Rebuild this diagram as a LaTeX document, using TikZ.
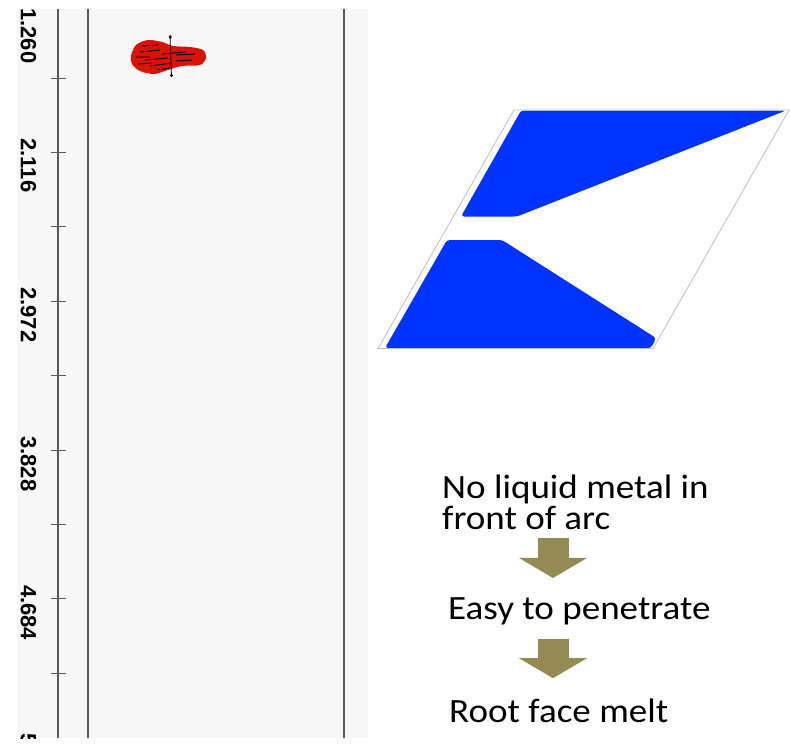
\documentclass[tikz,border=0pt]{standalone}
\usepackage{fontspec}
\setmainfont{Carlito}
\newfontfamily\axisfont{Liberation Sans}
\usetikzlibrary{arrows.meta}

\definecolor{panelgray}{RGB}{247,247,247}
\definecolor{gridgray}{RGB}{90,90,90}
\definecolor{poolred}{RGB}{215,20,5}
\definecolor{grooveblue}{RGB}{0,51,255}
\definecolor{olive}{RGB}{148,138,84}

\begin{document}
\begin{tikzpicture}[x=1pt, y=-1pt]
	\tikzstyle{axisline}=[gridgray, line width=1.8pt]
	\tikzstyle{ticklabel}=[font=\axisfont\bfseries\fontsize{22}{22}\selectfont, rotate=-90, anchor=west, inner sep=0pt]
	\tikzstyle{steptext}=[font=\fontsize{34}{31}\selectfont, align=left, inner sep=0pt, xscale=1.09]
	\tikzstyle{flow}=[olive, line width=31pt, -{Triangle[length=20pt, width=67pt]}]
	\useasboundingbox (0,0) rectangle (790,752);

	% left panel with the axis
	\fill[panelgray] (17,9) rectangle (368,738);
	\begin{scope}
		\clip (17,9) rectangle (368,738);
		\draw[axisline] (58,9) -- (58,738);
		\draw[axisline] (88,9) -- (88,738);
		\draw[axisline] (344,9) -- (344,738);
		\foreach \k in {0,...,9}
			\draw[gridgray, line width=0.8pt] (51,3.6+74.4*\k) -- (66,3.6+74.4*\k);
		\node[ticklabel] (v1) at (28.5,8) {1.260};
		\foreach \lab/\y [count=\i from 2] in {2.116/152.4, 2.972/301.2, 3.828/450, 4.684/598.8, 5.540/747.6}
			\node[ticklabel] (v\i) at (28.5,\y-14) {\lab};
	\end{scope}

	% melt pool
	\fill[poolred] plot[smooth cycle] coordinates {(131,56) (136,45) (148,40) (162,42) (173,46)
		(190,47) (203,50) (206,58) (200,65) (182,66) (168,70) (154,74) (140,71) (132,64)};
	\draw[black, line width=0.9pt] (140,52) -- (160,50) (145,60) -- (168,58) (150,66) -- (172,63)
		(176,55) -- (195,54) (136,57) -- (150,57) (158,70) -- (170,68) (142,46) -- (158,45)
		(162,54) -- (186,52) (138,64) -- (152,63) (176,61) -- (192,60);
	\draw[black, line width=0.8pt] (170,35) -- (171.5,77);
	\fill[black] (170.2,37) circle (1.6pt) (171.4,75.5) circle (1.6pt);

	% groove cross section
	\fill[grooveblue, rounded corners=3pt] (521,110.5) -- (786,110.5) -- (517,216.5) -- (461,216.5) -- cycle;
	\fill[grooveblue, rounded corners=3pt] (447,240) -- (502,240) -- (656,338) -- (651,348) -- (385,348) -- cycle;
	\draw[gray!50, line width=0.8pt] (514,110) -- (789,110) -- (653,348.5) -- (378,348.5) -- cycle;

	% cause and effect
	\node[steptext, anchor=base west] (noliquid) at (442,529) {No liquid metal in\\front of arc};
	\node[steptext, anchor=base west] (easy) at (448,619) {Easy to penetrate};
	\node[steptext, anchor=base west] (rootmelt) at (449,722) {Root face melt};
	\coordinate (axis) at (553,0);

	\draw[flow, shorten <=9pt, shorten >=19pt] (noliquid.south -| axis) -- (easy.north -| axis);
	\draw[flow, shorten <=14pt, shorten >=20pt] (easy.south -| axis) -- (rootmelt.north -| axis);
\end{tikzpicture}
\end{document}
